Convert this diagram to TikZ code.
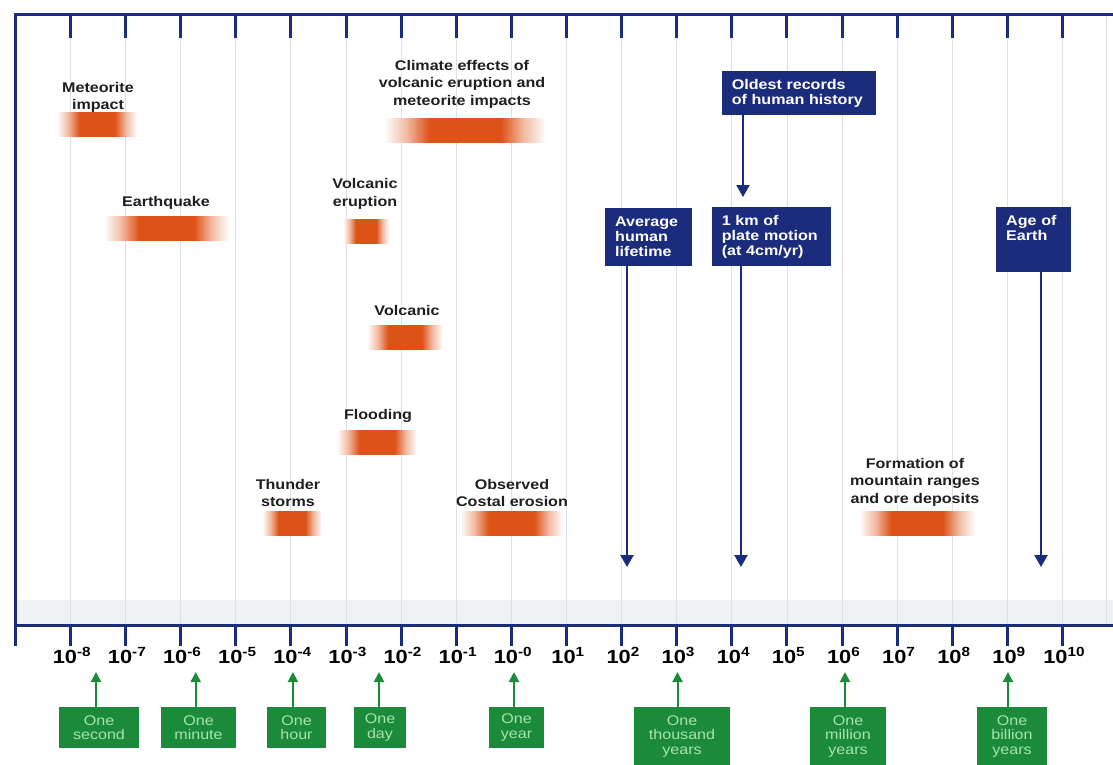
\documentclass[tikz,border=0pt]{standalone}
\usepackage{fontspec}
\setmainfont{Liberation Sans}[FakeStretch=1.15]
\usetikzlibrary{arrows.meta}

\definecolor{navy}{HTML}{1C2C7C}
\definecolor{gridgrey}{HTML}{DCE0E8}
\definecolor{bandgrey}{HTML}{EFF1F4}
\definecolor{boxgreen}{HTML}{1B8A3A}
\definecolor{palegreen}{HTML}{A8E4B0}
\definecolor{barorange}{HTML}{DD5217}

\pgfdeclarehorizontalshading{barshade}{100bp}{color(0bp)=(white); color(25bp)=(white);
  color(32bp)=(barorange!40!white); color(39bp)=(barorange); color(61bp)=(barorange);
  color(68bp)=(barorange!40!white); color(75bp)=(white); color(100bp)=(white)}

\tikzset{
  frame/.style={draw=navy, line width=3pt},
  tick/.style={draw=navy, line width=3pt},
  gridline/.style={draw=gridgrey, line width=0.8pt},
  lbl/.style={font=\bfseries\fontsize{14}{17.5}\selectfont, text=black!88, align=center, inner sep=0pt},
  bar/.style={shade, shading=barshade, minimum height=24pt, inner sep=0pt},
  bluebox/.style={fill=navy, text=white, font=\bfseries\fontsize{14}{15}\selectfont,
    align=left, anchor=north west, inner xsep=10pt, inner ysep=8pt},
  gbox/.style={fill=boxgreen, text=palegreen, font=\fontsize{14}{14.5}\selectfont,
    align=center, anchor=north, inner sep=0pt, minimum height=41pt},
  barrow/.style={draw=navy, line width=2.2pt, -{Triangle[width=13pt,length=12pt]}},
  garrow/.style={draw=boxgreen, line width=2pt, -{Triangle[width=10pt,length=10pt]}},
  axlbl/.style={font=\bfseries\fontsize{19}{22}\selectfont, anchor=base, inner sep=0pt}
}

% grid line and ticks of one decade
\def\dec#1{\draw[gridline] (#1,15) -- (#1,625);
  \draw[tick] (#1,15) -- (#1,38);
  \draw[tick] (#1,625) -- (#1,646);}

\begin{document}
\begin{tikzpicture}[x=1pt,y=-1pt]
	\useasboundingbox (0,0) rectangle (1113,765);
	\fill[white] (0,0) rectangle (1113,765);
	\fill[bandgrey] (15,600) rectangle (1113,624);

	\foreach \i in {0,...,18} {\dec{70.4+55.12*\i}}
	\draw[gridline] (1106,15) -- (1106,625);

	\draw[frame] (1113,15) -- (15,15) -- (15,646);
	\draw[frame] (15,625) -- (1113,625);

	\foreach \e [count=\i from 0] in {-8,-7,-6,-5,-4,-3,-2,-1,-0,1,2,3,4,5,6,7,8,9,10}
		\node[axlbl] (ax\i) at ({72+55.12*\i},663) {10\textsuperscript{\e}};

	% events
	\node[bar, minimum width=80pt] (bmet) at (97,125) {};
	\node[lbl] (met) at (98,97.5) {Meteorite\\impact};
	\node[bar, minimum width=162pt] (bclim) at (465,130.5) {};
	\node[lbl] (clim) at (462,84) {Climate effects of\\volcanic eruption and\\meteorite impacts};
	\node[bar, minimum width=125pt] (bquake) at (166.5,228.5) {};
	\node[lbl] (quake) at (166,203) {Earthquake};
	\node[bar, minimum width=46pt] (berupt) at (366,231) {};
	\node[lbl] (erupt) at (365,194) {Volcanic\\eruption};
	\node[bar, minimum width=76pt] (bvolc) at (405,337.5) {};
	\node[lbl] (volc) at (407,310) {Volcanic};
	\node[bar, minimum width=80pt] (bflood) at (377,442.5) {};
	\node[lbl] (flood) at (378,416) {Flooding};
	\node[bar, minimum width=60pt] (bstorm) at (292,523.5) {};
	\node[lbl] (storm) at (288,493) {Thunder\\storms};
	\node[bar, minimum width=103pt] (bcoast) at (511.5,523.5) {};
	\node[lbl] (coast) at (512,493) {Observed\\Costal erosion};
	\node[bar, minimum width=116pt] (bmount) at (917,523.5) {};
	\node[lbl] (mount) at (915,482) {Formation of\\mountain ranges\\and ore deposits};

	% blue markers
	\node[bluebox, text width=134pt, minimum height=42pt] (oldest) at (721.6,71) {Oldest records\\of human history};
	\node[bluebox, text width=67pt, minimum height=58pt] (life) at (605,208) {Average\\human\\lifetime};
	\node[bluebox, text width=99pt, minimum height=57pt] (plate) at (711.6,207) {1 km of\\plate motion\\(at 4cm/yr)};
	\node[bluebox, text width=55pt, text depth=37.8pt, inner ysep=8.5pt] (earth) at (996,207) {Age of\\Earth};

	\coordinate (toldest) at (743,197);
	\coordinate (tlife) at (627,567);
	\coordinate (tplate) at (741,567);
	\coordinate (tearth) at (1041,567);
	\draw[barrow] (oldest.south -| toldest) -- (toldest);
	\draw[barrow] (life.south -| tlife) -- (tlife);
	\draw[barrow] (plate.south -| tplate) -- (tplate);
	\draw[barrow] (earth.south -| tearth) -- (tearth);

	% green units
	\node[gbox, minimum width=80pt] (sec) at (99,707) {One\\second};
	\node[gbox, minimum width=75pt] (min) at (198.5,707) {One\\minute};
	\node[gbox, minimum width=59pt] (hour) at (296.5,707) {One\\hour};
	\node[gbox, minimum width=52pt] (day) at (380,707) {One\\day};
	\node[gbox, minimum width=55pt] (year) at (516.5,707) {One\\year};
	\node[gbox, minimum width=96pt, minimum height=58pt] (kyr) at (682,707) {One\\thousand\\years};
	\node[gbox, minimum width=76pt, minimum height=58pt] (myr) at (848,707) {One\\million\\years};
	\node[gbox, minimum width=70pt, minimum height=58pt] (gyr) at (1012,707) {One\\billion\\years};

	\coordinate (tsec) at (96,672);
	\coordinate (tmin) at (195.7,672);
	\coordinate (thour) at (292.9,672);
	\coordinate (tday) at (379,672);
	\coordinate (tyear) at (514,672);
	\coordinate (tkyr) at (677.5,672);
	\coordinate (tmyr) at (845,672);
	\coordinate (tgyr) at (1008,672);
	\draw[garrow] (sec.north -| tsec) -- (tsec);
	\draw[garrow] (min.north -| tmin) -- (tmin);
	\draw[garrow] (hour.north -| thour) -- (thour);
	\draw[garrow] (day.north -| tday) -- (tday);
	\draw[garrow] (year.north -| tyear) -- (tyear);
	\draw[garrow] (kyr.north -| tkyr) -- (tkyr);
	\draw[garrow] (myr.north -| tmyr) -- (tmyr);
	\draw[garrow] (gyr.north -| tgyr) -- (tgyr);
\end{tikzpicture}
\end{document}
